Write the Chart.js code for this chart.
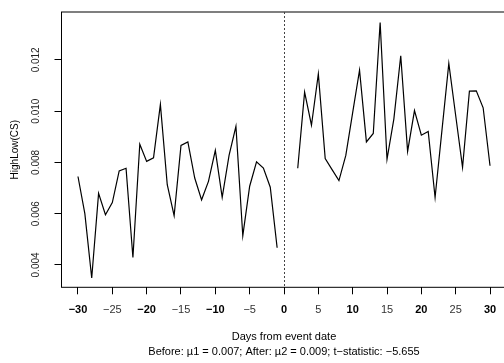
<!DOCTYPE html>
<html>
<head>
<meta charset="utf-8">
<title>HighLow(CS)</title>
<script src="https://cdn.jsdelivr.net/npm/chart.js@4.4.1/dist/chart.umd.min.js"></script>
<style>
  html, body { margin: 0; padding: 0; background: #fff; overflow: hidden; }
  #box { width: 504px; height: 363px; overflow: hidden; }
</style>
</head>
<body>
<div id="box"><canvas id="myChart" width="512" height="363"></canvas></div>
<script>
// days before / after the event and the HighLow(CS) spread for each day
const beforeDays = [-30, -29, -28, -27, -26, -25, -24, -23, -22, -21, -20, -19, -18, -17, -16,
  -15, -14, -13, -12, -11, -10, -9, -8, -7, -6, -5, -4, -3, -2, -1];
const beforeVals = [0.00745, 0.00600, 0.00349, 0.00679, 0.00596, 0.00643, 0.00767, 0.00777,
  0.00429, 0.00871, 0.00804, 0.00818, 0.01026, 0.00713, 0.00592, 0.00866, 0.00880, 0.00739,
  0.00654, 0.00726, 0.00847, 0.00664, 0.00827, 0.00941, 0.00514, 0.00707, 0.00802, 0.00778,
  0.00703, 0.00467];

const afterDays = [2, 3, 4, 5, 6, 7, 8, 9, 10, 11, 12, 13, 14, 15, 16, 17, 18, 19, 20,
  21, 22, 23, 24, 25, 26, 27, 28, 29, 30];
const afterVals = [0.00777, 0.01074, 0.00945, 0.01145, 0.00815, 0.00772, 0.00729, 0.00827,
  0.00994, 0.01160, 0.00880, 0.00913, 0.01346, 0.00812, 0.00970, 0.01216, 0.00843, 0.01002,
  0.00906, 0.00921, 0.00663, 0.00925, 0.01186, 0.00983, 0.00781, 0.01078, 0.01079, 0.01013,
  0.00787];

const xTicks = [-30, -25, -20, -15, -10, -5, 0, 5, 10, 15, 20, 25, 30];
const yTicks = [0.004, 0.006, 0.008, 0.010, 0.012];
const eventDay = 0;

const xTitle = 'Days from event date';
const statsLine = 'Before: \u00b51 = 0.007; After: \u00b52 = 0.009; t\u2212statistic: \u22125.655';
const yTitle = 'HighLow(CS)';

Chart.defaults.font.family = "'Liberation Sans', Arial, sans-serif";
Chart.defaults.color = '#000';

function toPoints(xs, ys) {
  return xs.map((d, i) => ({ x: d, y: ys[i] }));
}

// R style frame round the plot plus the dotted event line
const framePlugin = {
  id: 'frame',
  afterDatasetsDraw(chart) {
    const { ctx, chartArea: a, scales } = chart;
    ctx.save();
    ctx.strokeStyle = '#000';
    ctx.lineWidth = 1;
    ctx.strokeRect(a.left, a.top, a.right - a.left, a.bottom - a.top);

    const x0 = Math.round(scales.x.getPixelForValue(eventDay)) + 0.5;
    ctx.strokeStyle = '#444';
    ctx.setLineDash([2, 2]);
    ctx.beginPath();
    ctx.moveTo(x0, a.top);
    ctx.lineTo(x0, a.bottom);
    ctx.stroke();
    ctx.restore();
  }
};

const lineStyle = {
  borderColor: '#000',
  borderWidth: 1.2,
  pointRadius: 0,
  tension: 0,
  fill: false
};

const ctx = document.getElementById('myChart').getContext('2d');
const chart = new Chart(ctx, {
  type: 'line',
  data: {
    datasets: [
      Object.assign({ label: 'before', data: toPoints(beforeDays, beforeVals) }, lineStyle),
      Object.assign({ label: 'after', data: toPoints(afterDays, afterVals) }, lineStyle)
    ]
  },
  options: {
    responsive: false,
    animation: false,
    layout: { padding: { top: 4.3, right: 5.5, left: 0, bottom: 0 } },
    plugins: {
      legend: { display: false },
      tooltip: { enabled: false }
    },
    scales: {
      x: {
        type: 'linear',
        min: -32.4,
        max: 32.4,
        afterBuildTicks: (scale) => { scale.ticks = xTicks.map(v => ({ value: v })); },
        afterFit: (scale) => { scale.height = 75.7; },
        border: { display: false },
        grid: { drawOnChartArea: false, drawTicks: true, tickLength: 7, color: '#000' },
        ticks: {
          autoSkip: false,
          maxRotation: 0,
          padding: 9,
          callback: (v) => (v < 0 ? '\u2212' + Math.abs(v) : String(v)),
          color: (c) => (c.tick && c.tick.value % 10 === 0 ? '#000' : '#333'),
          font: (c) => ({ size: 11, weight: c.tick && c.tick.value % 10 === 0 ? 'bold' : 'normal' })
        },
        title: {
          display: true,
          text: [xTitle, statsLine],
          font: { size: 11, lineHeight: 1.32 },
          padding: { top: 0, bottom: 3.8 }
        }
      },
      y: {
        min: 0.003127,
        max: 0.013867,
        afterBuildTicks: (scale) => { scale.ticks = yTicks.map(v => ({ value: v })); },
        afterFit: (scale) => { scale.width = 61.5; },
        border: { display: false },
        grid: { drawOnChartArea: false, drawTicks: true, tickLength: 7, color: '#000' },
        ticks: {
          minRotation: 90,
          maxRotation: 90,
          crossAlign: 'center',
          padding: 6,
          color: '#222',
          font: { size: 10 },
          callback: (v) => v.toFixed(3)
        },
        title: {
          display: true,
          text: yTitle,
          font: { size: 10 },
          padding: { top: 9.5, bottom: 0 }
        }
      }
    }
  },
  plugins: [framePlugin]
});
</script>
</body>
</html>
